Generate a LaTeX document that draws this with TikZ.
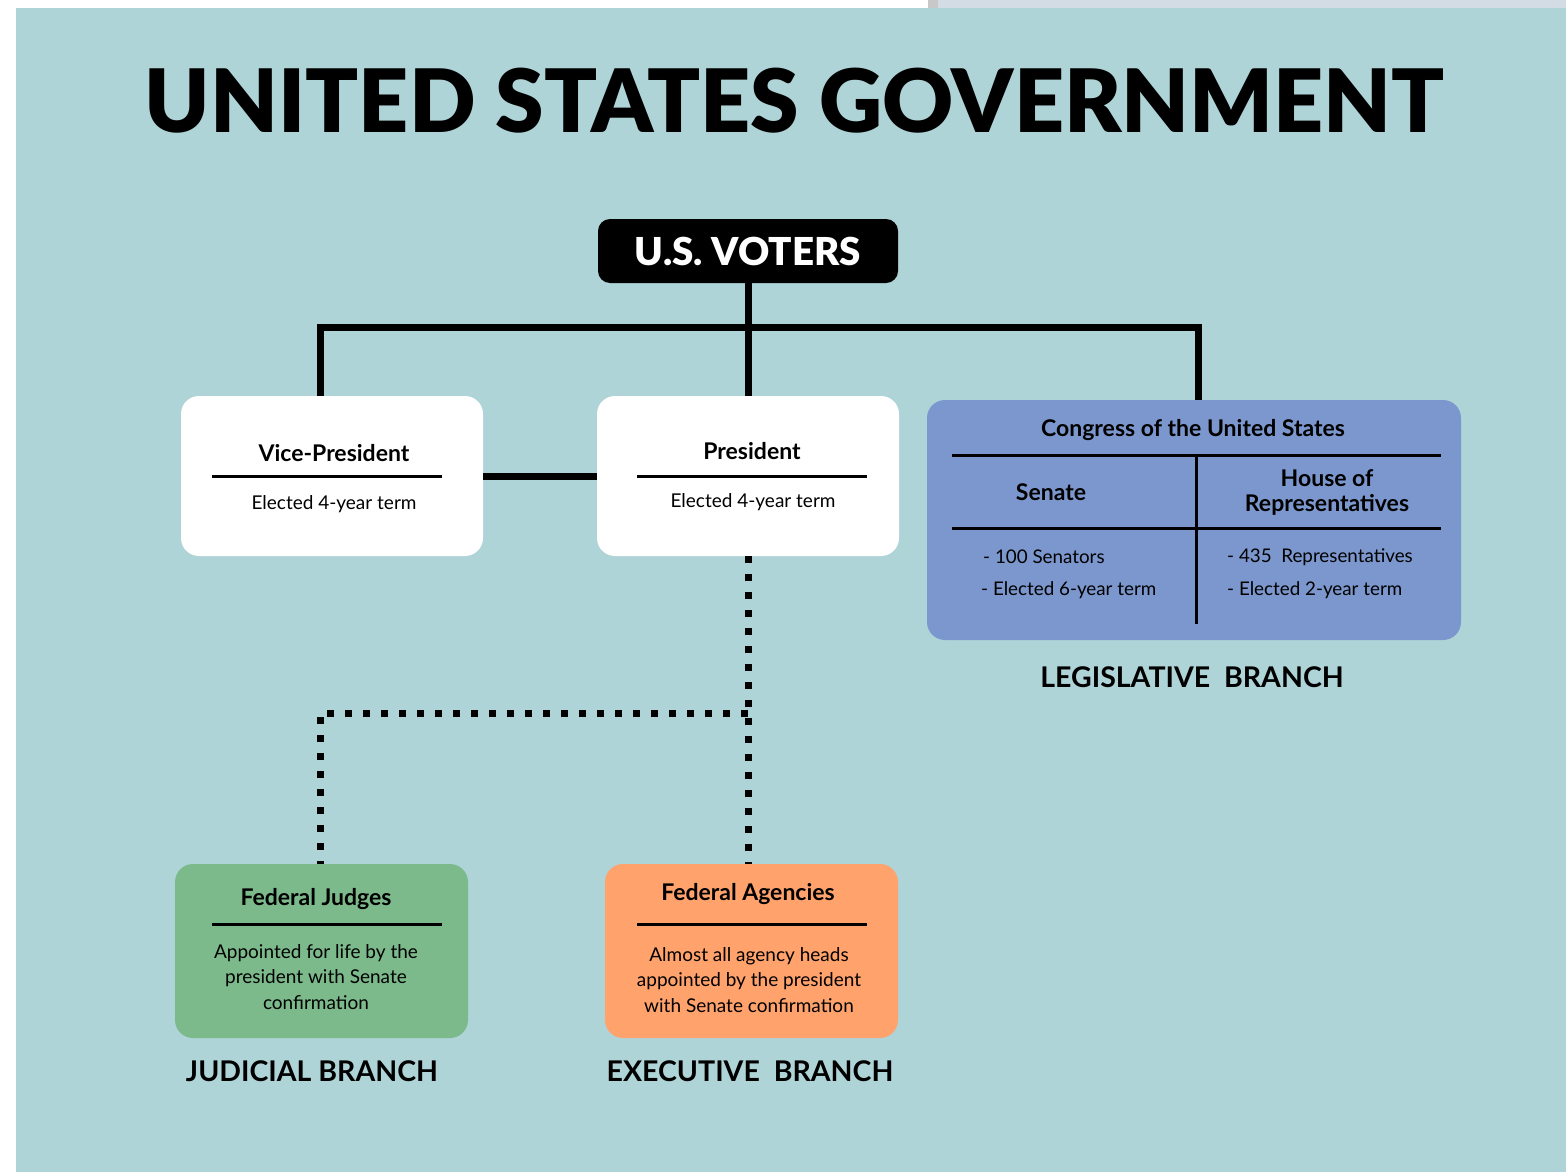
\documentclass[tikz,border=0pt]{standalone}
\usepackage{fontspec}
\setmainfont{Lato}
\newfontfamily\heavy{Lato Black}
\definecolor{teal}{HTML}{AED4D7}
\definecolor{congress}{HTML}{7B97CD}
\definecolor{judgegreen}{HTML}{7CBA8C}
\definecolor{agencyorange}{HTML}{FFA26C}
\definecolor{bargrey}{HTML}{C8C8C8}
\definecolor{barblue}{HTML}{D3DCE4}
\newcommand{\fs}[1]{\fontsize{#1}{#1}\selectfont}
\tikzset{
  card/.style={rounded corners=18pt, inner sep=0pt, draw=none},
  heading/.style={font=\bfseries\fs{23}, anchor=center, inner sep=0pt},
  bodytext/.style={font=\fs{19}, anchor=center, inner sep=0pt, align=center},
  bullet/.style={font=\fs{18.8}, anchor=west, inner sep=0pt},
  rule/.style={line width=3pt},
  link/.style={line width=7pt},
  dots/.style={line width=7pt, dash pattern=on 7pt off 11pt},
  branch/.style={font=\bfseries\fs{28.5}, inner sep=0pt},
}
\begin{document}
\begin{tikzpicture}[x=1pt,y=-1pt]
\useasboundingbox (0,0) rectangle (1566,1172);
% background
\fill[white] (0,0) rectangle (1566,1172);
\fill[teal] (16,8) rectangle (1566,1172);
\fill[bargrey] (928,0) rectangle (938,8);
\fill[barblue] (938,0) rectangle (1566,8);
% title
\node[font=\heavy\fs{87.5}, inner sep=0pt] (title) at (795,101) {UNITED STATES GOVERNMENT};
% voters
\node[fill=black, rounded corners=12pt, minimum width=300pt, minimum height=64pt, inner sep=0pt,
      text=white, font=\heavy\fs{38.5}] (voters) at (748,251) {U.S. VOTERS};
% VP & President
\node[card, fill=white, minimum width=302pt, minimum height=160pt] (vp) at (332,476) {};
\node[card, fill=white, minimum width=302pt, minimum height=160pt] (pres) at (748,476) {};
\node[heading] (vpt) at (334,453) {Vice-President};
\draw[rule] (212,476) -- (442,476);
\node[bodytext] (vpb) at (334,504) {Elected 4-year term};
\node[heading] (prt) at (752,451) {President};
\draw[rule] (637,476) -- (867,476);
\node[bodytext] (prb) at (753,502) {Elected 4-year term};
% Congress
\node[card, fill=congress, minimum width=534pt, minimum height=240pt] (cong) at (1194,520) {};
\node[heading] (congt) at (1193,430) {Congress of the United States};
\draw[rule] (952,455) -- (1441,455);
\draw[rule] (952,528) -- (1441,528);
\draw[rule] (1196,455) -- (1196,624);
\node[heading] (sen) at (1051,492) {Senate};
\node[heading, align=center, execute at begin node={\baselineskip=25pt}] (house) at (1327,492) {House of\\Representatives};
\node[bullet] (s1) at (983,557) {- 100 Senators};
\node[bullet] (s2) at (981,590) {- Elected 6-year term};
\node[bullet] (h1) at (1227,557) {- 435\ \ Representatives};
\node[bullet] (h2) at (1227,590) {- Elected 2-year term};
\node[branch] (leg) at (1192,677) {LEGISLATIVE\ \ BRANCH};
% Judges & agencies
\node[card, fill=judgegreen, minimum width=293pt, minimum height=174pt] (judg) at (321.5,951) {};
\node[card, fill=agencyorange, minimum width=293pt, minimum height=174pt] (agen) at (751.5,951) {};
\node[heading] (judt) at (316,899) {Federal Judges};
\draw[rule] (212,924) -- (442,924);
\node[bodytext, execute at begin node={\baselineskip=25.5pt}] (judb) at (316,977) {Appointed for life by the\\president with Senate\\confirmation};
\node[heading] (agt) at (748,894) {Federal Agencies};
\draw[rule] (637,924) -- (867,924);
\node[bodytext, execute at begin node={\baselineskip=25.5pt}] (agb) at (749,980) {Almost all agency heads\\appointed by the president\\with Senate confirmation};
\node[branch] (jud) at (312,1071) {JUDICIAL BRANCH};
\node[branch] (exe) at (750,1071) {EXECUTIVE\ \ BRANCH};
% connectors
\coordinate (busL) at (320,327);
\coordinate (busR) at (1198,327);
\draw[link] (voters.south) -- (pres.north);
\draw[link] (vp.north -| busL) -- (busL) -- (busR) -- (cong.north -| busR);
\draw[link] (vp.east) -- (pres.west);
\coordinate (dotJ) at (320,713);
\draw[dots] (pres.south) -- (agen.north -| pres.south);
\draw[dots] (pres.south |- dotJ) -- (dotJ) -- (judg.north -| dotJ);
\end{tikzpicture}
\end{document}
